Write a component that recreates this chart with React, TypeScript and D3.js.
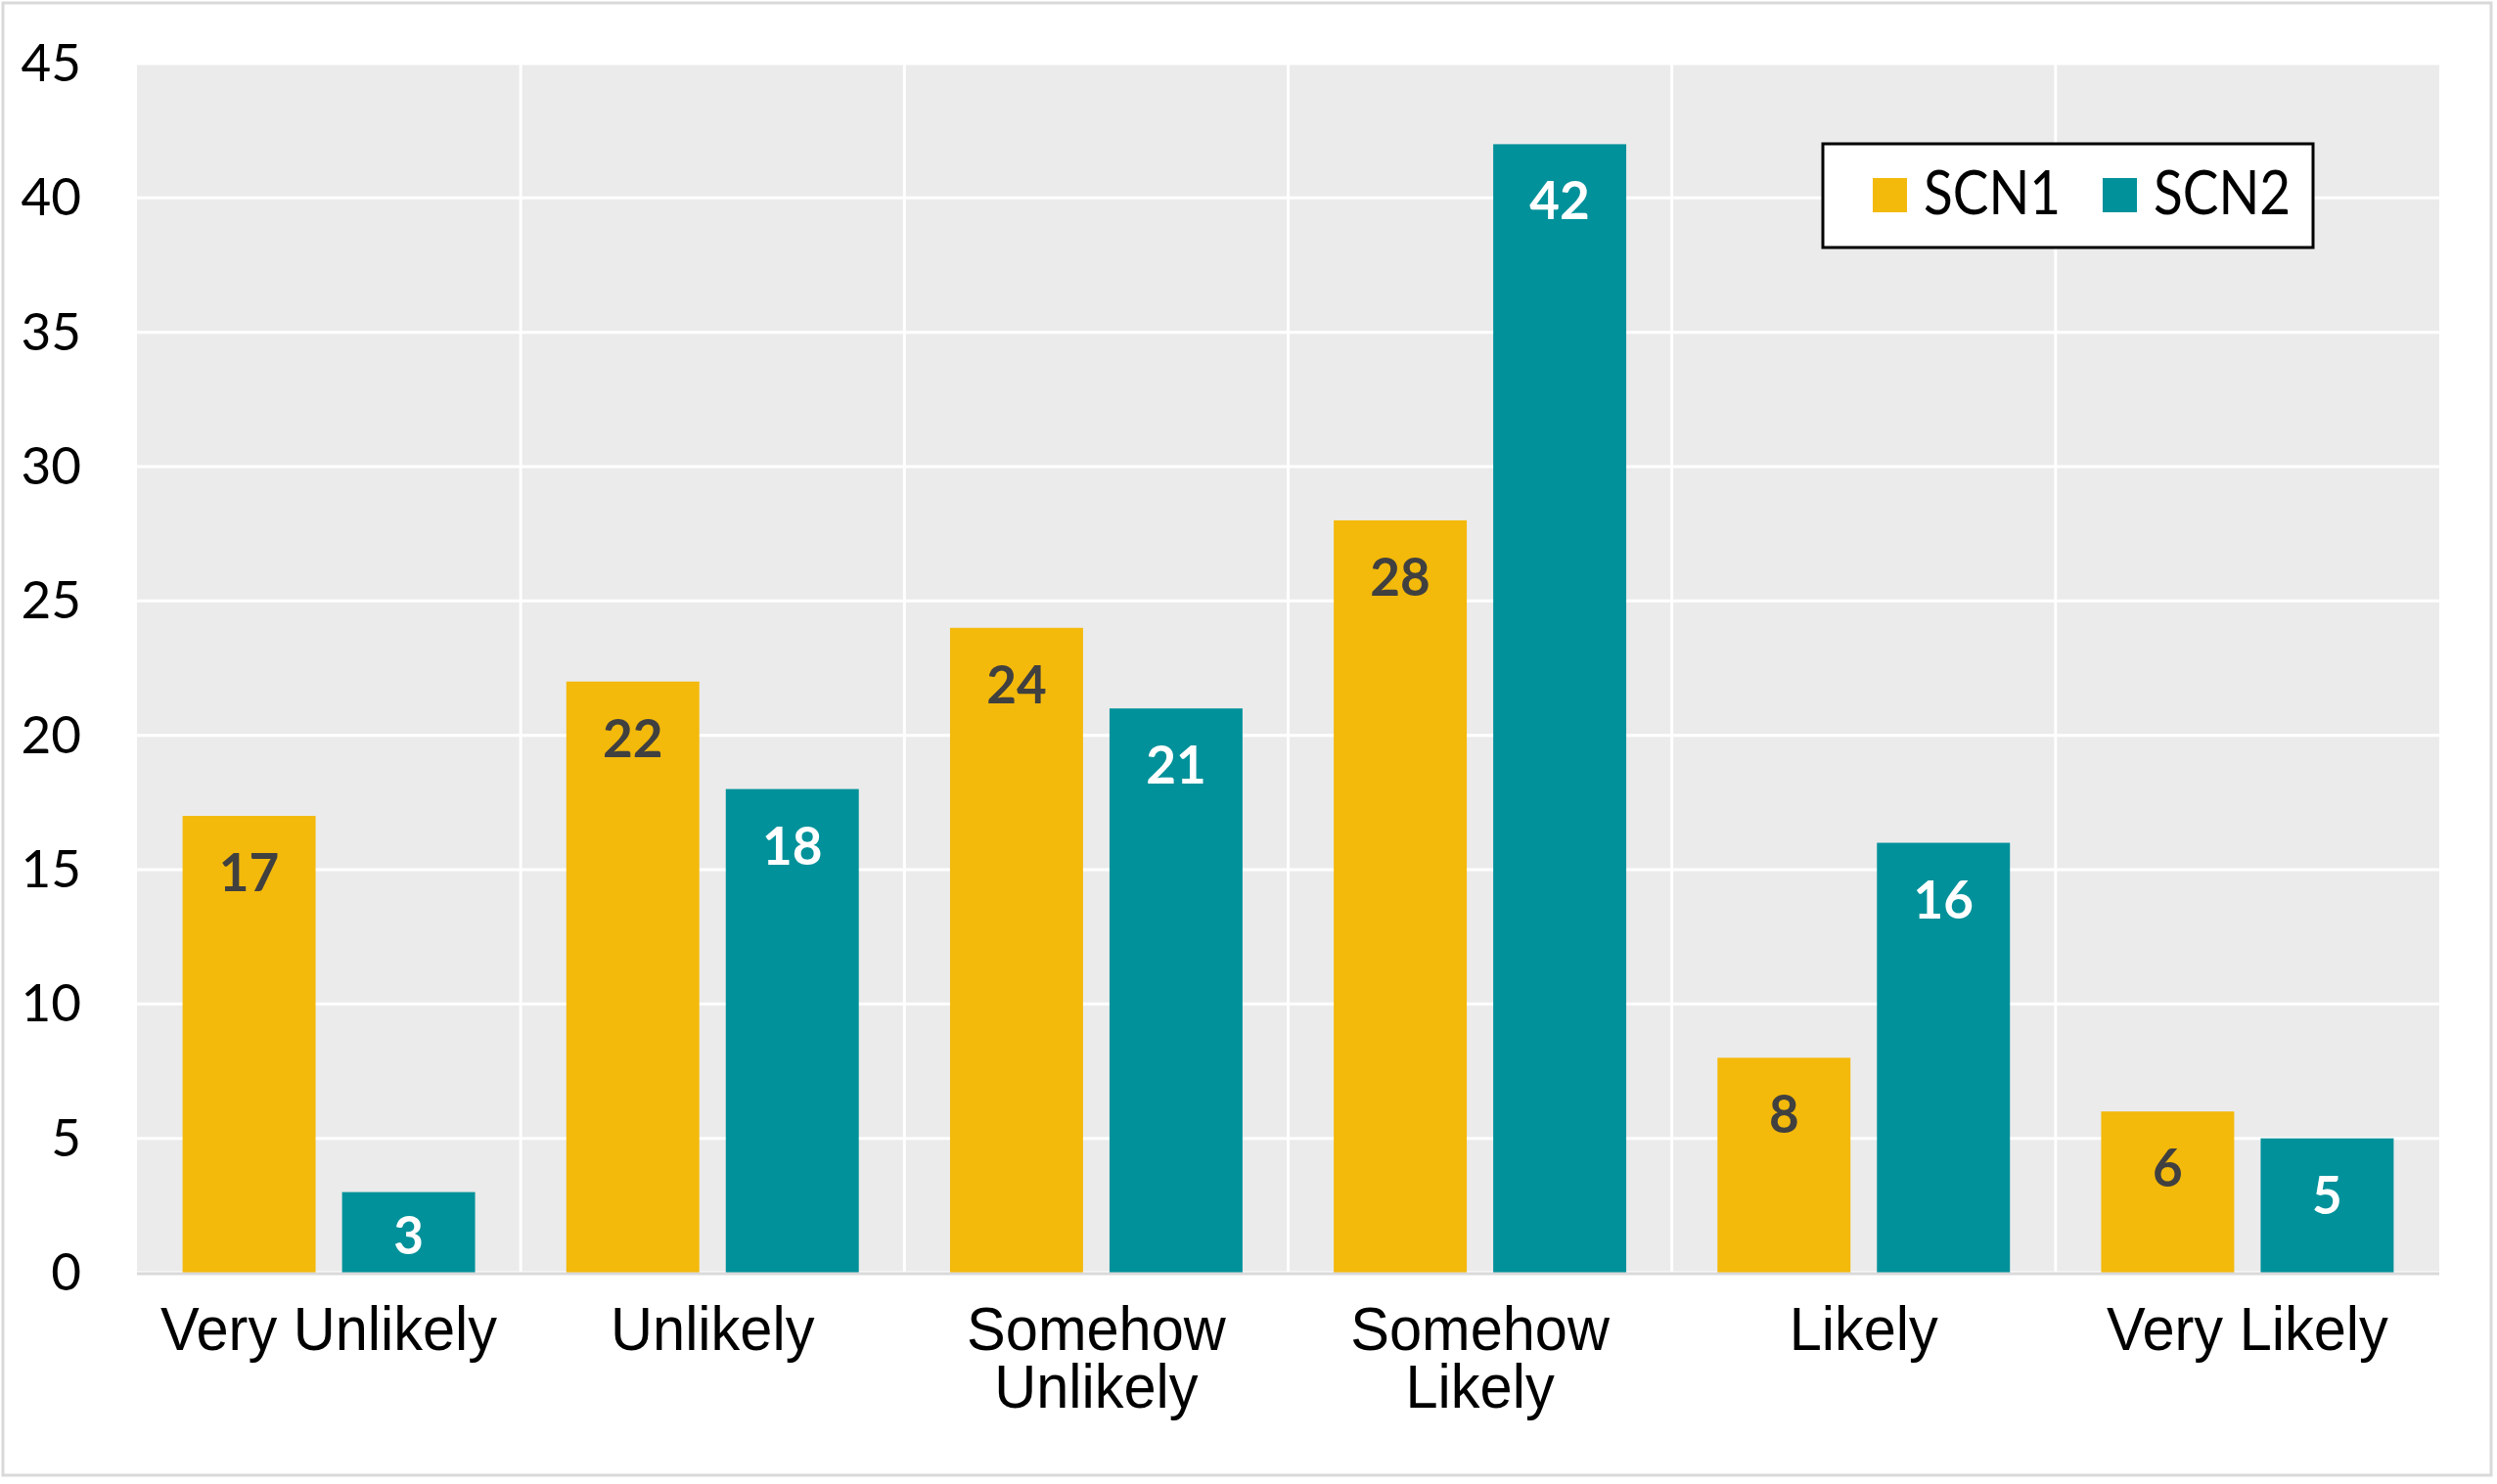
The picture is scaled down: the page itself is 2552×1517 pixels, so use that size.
import React from "react";
import * as d3 from "d3";

const categories = ["Very Unlikely", "Unlikely", "Somehow Unlikely", "Somehow Likely", "Likely", "Very Likely"];
const categoryLines = [["Very Unlikely"], ["Unlikely"], ["Somehow", "Unlikely"], ["Somehow", "Likely"], ["Likely"], ["Very Likely"]];
const seriesNames = ["SCN1", "SCN2"];
const scn1 = [17, 22, 24, 28, 8, 6];
const scn2 = [3, 18, 21, 42, 16, 5];
const yTicks = [0, 5, 10, 15, 20, 25, 30, 35, 40, 45];

const W = 2552;
const H = 1517;
const plotLeft = 140;
const plotRight = 2493;
const plotTop = 65;
const plotBottom = 1301;

const colors: Record<string, string> = { SCN1: "#F3B90B", SCN2: "#00919A" };
const labelColors: Record<string, string> = { SCN1: "#404040", SCN2: "#FFFFFF" };
const numFont = "Lato, 'Open Sans', sans-serif";
const catFont = "'Liberation Sans', Arial, sans-serif";

export default function App() {
  const y = d3.scaleLinear().domain([0, 45]).range([plotBottom, plotTop]);
  const x0 = d3.scaleBand<string>().domain(categories).range([plotLeft, plotRight]).padding(0);
  const x1 = d3
    .scaleBand<string>()
    .domain(seriesNames)
    .range([0, x0.bandwidth()])
    .paddingInner(0.166)
    .paddingOuter(0.286);

  const seriesValues: Record<string, number[]> = { SCN1: scn1, SCN2: scn2 };

  const legendX = [1914, 2149];

  return (
    <svg
      width={W}
      height={H}
      style={{ position: "absolute", left: 0, top: 0, display: "block", background: "#fff" }}
    >
      <rect x={0} y={0} width={W} height={H} fill="#fff" />
      <rect x={3} y={3} width={2543} height={1505} fill="none" stroke="#d9d9d9" strokeWidth={3} />
      {/* plot background */}
      <rect x={plotLeft} y={plotTop} width={plotRight - plotLeft} height={plotBottom - plotTop} fill="#EBEBEB" />
      {/* horizontal gridlines */}
      {yTicks.map((t) => (
        <line key={"h" + t} x1={plotLeft} x2={plotRight} y1={y(t)} y2={y(t)} stroke="#fff" strokeWidth={3} />
      ))}
      {/* vertical gridlines between categories */}
      {categories.slice(1).map((c) => (
        <line key={"v" + c} x1={x0(c)} x2={x0(c)} y1={plotTop} y2={plotBottom} stroke="#fff" strokeWidth={3} />
      ))}
      {/* bars */}
      {categories.map((c, i) =>
        seriesNames.map((s) => {
          const v = seriesValues[s][i];
          const bx = (x0(c) as number) + (x1(s) as number);
          return (
            <rect
              key={c + s}
              x={bx}
              y={y(v)}
              width={x1.bandwidth()}
              height={y(0) - y(v)}
              fill={colors[s]}
            />
          );
        })
      )}
      {/* zero axis line */}
      <line x1={plotLeft} x2={plotRight} y1={y(0) + 1} y2={y(0) + 1} stroke="#d9d9d9" strokeWidth={3} />
      {/* bar labels */}
      {categories.map((c, i) =>
        seriesNames.map((s) => {
          const v = seriesValues[s][i];
          const cx = (x0(c) as number) + (x1(s) as number) + x1.bandwidth() / 2;
          const center = Math.min(y(v) + 58, (y(v) + y(0)) / 2 + 3);
          return (
            <text
              key={"l" + c + s}
              x={cx}
              y={center + 19}
              textAnchor="middle"
              fontFamily={numFont}
              fontWeight={700}
              fontSize={53}
              fill={labelColors[s]}
            >
              {v}
            </text>
          );
        })
      )}
      {/* y tick labels */}
      {yTicks.map((t) => (
        <text
          key={"yt" + t}
          x={83}
          y={y(t) + 18}
          textAnchor="end"
          fontFamily={numFont}
          fontSize={53}
          fill="#000"
        >
          {t}
        </text>
      ))}
      {/* x category labels */}
      {categories.map((c, i) => {
        const cx = (x0(c) as number) + x0.bandwidth() / 2;
        return categoryLines[i].map((line, j) => (
          <text
            key={"xl" + c + j}
            transform={`translate(${cx},${1380 + j * 59}) scale(0.96,1)`}
            textAnchor="middle"
            fontFamily={catFont}
            fontSize={62}
            fill="#000"
          >
            {line}
          </text>
        ));
      })}
      {/* legend */}
      <rect x={1863} y={147} width={501} height={106} fill="#fff" stroke="#000" strokeWidth={3} />
      {seriesNames.map((s, i) => (
        <g key={"lg" + s}>
          <rect x={legendX[i]} y={182} width={35} height={35} fill={colors[s]} />
          <text
            transform={`translate(${legendX[i] + 52},219) scale(0.9,1)`}
            fontFamily={numFont}
            fontSize={61}
            fill="#000"
          >
            {s}
          </text>
        </g>
      ))}
    </svg>
  );
}
